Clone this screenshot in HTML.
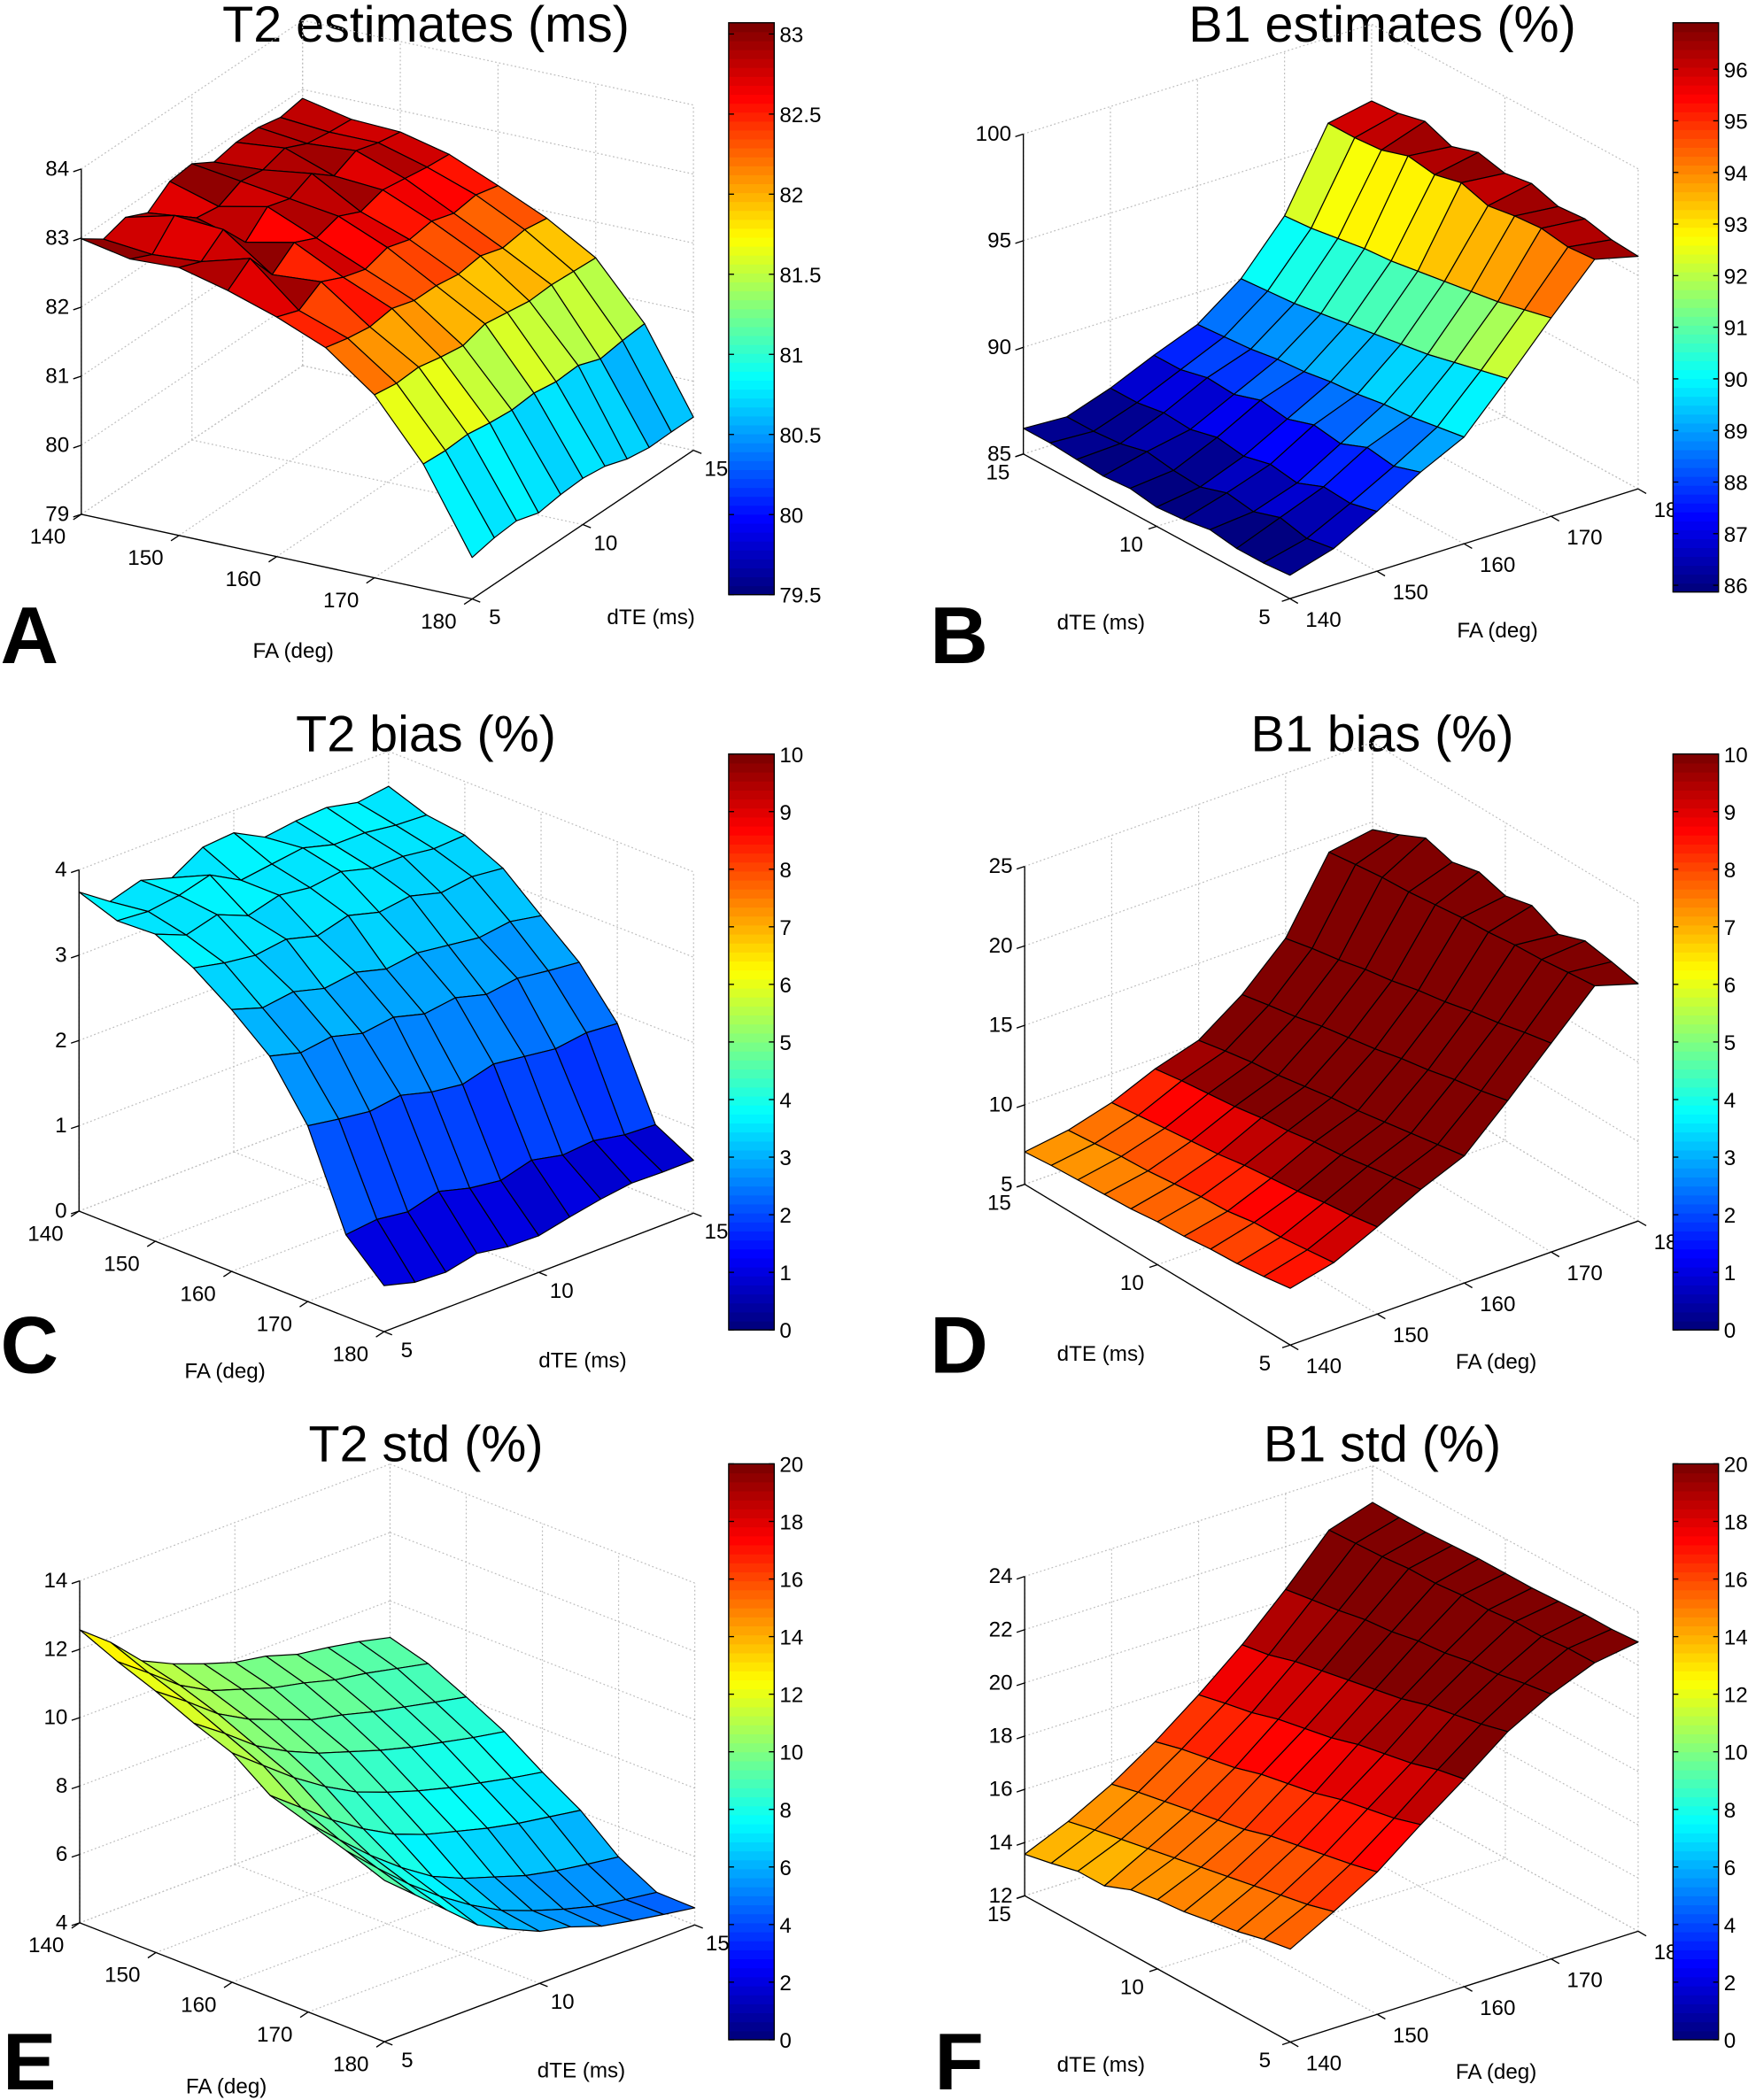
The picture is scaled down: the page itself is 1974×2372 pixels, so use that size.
<!DOCTYPE html>
<html><head><meta charset="utf-8"><title>T2/B1 estimation surfaces</title>
<style>
html,body{margin:0;padding:0;background:#fff;}
svg{display:block;font-family:"Liberation Sans",Arial,sans-serif;}
</style></head>
<body>
<svg id="fig" width="1974" height="2372" viewBox="0 0 1305 1568" preserveAspectRatio="none" xmlns="http://www.w3.org/2000/svg">
<rect x="0" y="0" width="1305" height="1568" fill="#fff"/>
<g font-size="38" text-anchor="middle" fill="#000">
<text x="318" y="31">T2 estimates (ms)</text>
<text x="1032" y="31">B1 estimates (%)</text>
<text x="318" y="561">T2 bias (%)</text>
<text x="1032" y="561">B1 bias (%)</text>
<text x="318" y="1091">T2 std (%)</text>
<text x="1032" y="1091">B1 std (%)</text>
</g>
<g font-size="60" font-weight="bold" text-anchor="middle" fill="#000">
<text x="22" y="495">A</text>
<text x="716" y="495">B</text>
<text x="22" y="1025">C</text>
<text x="716" y="1025">D</text>
<text x="22" y="1560">E</text>
<text x="716" y="1560">F</text>
</g>
<g font-size="16" text-anchor="middle" fill="#000">
<text x="219" y="491">FA (deg)</text>
<text x="486" y="466">dTE (ms)</text>
<text x="822" y="470">dTE (ms)</text>
<text x="1118" y="476">FA (deg)</text>
<text x="168" y="1029">FA (deg)</text>
<text x="435" y="1021">dTE (ms)</text>
<text x="822" y="1016">dTE (ms)</text>
<text x="1117" y="1022">FA (deg)</text>
<text x="169" y="1563">FA (deg)</text>
<text x="434" y="1551">dTE (ms)</text>
<text x="822" y="1547">dTE (ms)</text>
<text x="1117" y="1552">FA (deg)</text>
</g>
<g id="plots"></g>
</svg>
<script>
// ---- data ----
const faValues = [140,145,150,155,160,165,170,175,180];
const dteValues = [5,6,7,8,9,10,11,12,13,14,15];
const faTicks = [140,150,160,170,180];
const dteTicks = [5,10,15];

const t2Estimates = [
[82.99,82.77,82.87,82.72,82.96,83.0,82.81,82.88,82.88,82.81,82.87],
[82.85,82.7,83.05,82.8,82.75,82.9,82.85,82.95,82.8,82.75,82.72],
[82.88,82.75,83.0,82.6,82.9,82.8,82.95,82.7,82.85,82.75,82.69],
[82.70,82.95,82.5,82.75,82.6,82.7,82.55,82.65,82.6,82.55,82.52],
[82.47,82.35,82.55,82.4,82.3,82.4,82.3,82.35,82.25,82.3,82.22],
[82.18,82.1,82.05,82.1,82.0,82.0,81.95,82.0,81.9,81.95,81.90],
[81.65,81.6,81.62,81.55,81.5,81.6,81.55,81.5,81.52,81.5,81.48],
[80.80,80.78,80.8,80.75,80.72,80.75,80.7,80.72,80.6,80.65,80.68],
[79.6,79.67,79.70,79.60,79.65,79.67,79.63,79.52,79.47,79.48,79.48]];
const b1Estimates = [
[86.1,86.0,86.0,86.2,86.0,85.9,86.1,86.0,86.1,86.2,86.2],
[86.7,86.5,86.8,86.4,86.6,86.2,86.3,86.5,86.2,86.1,86.1],
[87.8,87.5,87.6,87.1,87.3,87.0,87.2,86.9,87.0,86.8,86.8],
[89.0,88.6,88.8,88.3,88.5,88.1,88.3,87.9,88.0,87.7,87.7],
[90.0,89.8,89.6,89.5,89.3,89.2,89.0,88.9,88.7,88.6,88.5],
[92.1,91.8,91.5,91.2,91.0,90.8,90.6,90.4,90.2,90.1,90.0],
[94.3,94.0,93.7,93.5,93.3,93.1,92.9,92.8,92.6,92.4,92.3],
[96.4,96.3,96.5,96.4,96.2,96.6,96.3,96.5,96.1,96.0,96.0],
[95.9,96.0,96.3,96.2,96.6,96.4,96.7,96.3,96.8,96.5,96.4]];
const t2Bias = [
[3.74,3.49,3.60,3.49,3.71,3.74,3.55,3.60,3.62,3.54,3.59],
[3.58,3.55,3.6,3.7,3.5,3.55,3.6,3.5,3.5,3.45,3.43],
[3.60,3.45,3.55,3.4,3.5,3.45,3.5,3.4,3.4,3.35,3.37],
[3.38,3.3,3.25,3.3,3.2,3.3,3.2,3.25,3.15,3.2,3.16],
[3.07,2.95,3.0,2.9,2.95,2.85,2.9,2.85,2.8,2.85,2.78],
[2.70,2.6,2.65,2.55,2.6,2.5,2.55,2.45,2.5,2.45,2.41],
[2.06,2.0,1.95,2.0,1.9,1.85,1.95,1.9,1.85,1.9,1.87],
[0.96,1.0,0.95,1.05,0.95,0.9,1.0,0.92,0.95,0.88,0.86],
[0.54,0.44,0.42,0.50,0.44,0.43,0.51,0.58,0.63,0.62,0.62]];
const b1Bias = [
[8.57,8.3,8.1,8.0,7.8,7.7,7.5,7.4,7.3,7.2,7.04],
[9.21,9.0,8.8,8.7,8.4,8.3,8.1,7.9,7.8,7.6,7.43],
[10.48,10.2,10.0,9.7,9.5,9.3,9.0,8.8,8.6,8.4,8.19],
[11.87,11.6,11.3,11.0,10.8,10.5,10.3,10.0,9.8,9.6,9.34],
[13.0,12.7,12.4,12.1,11.8,11.6,11.3,11.0,10.8,10.5,10.16],
[15.5,15.1,14.8,14.4,14.1,13.7,13.4,13.1,12.7,12.4,12.06],
[18.14,17.8,17.4,17.1,16.7,16.4,16.0,15.7,15.3,15.0,14.62],
[20.77,20.6,20.4,20.3,20.1,20.0,19.8,19.6,19.5,19.3,19.07],
[19.92,20.3,20.6,20.0,20.8,20.4,20.9,20.5,21.0,20.2,19.51]];
const t2Std = [
[12.57,11.86,10.98,10.55,10.21,9.91,9.75,9.46,9.32,9.15,8.93],
[12.07,11.4,10.7,10.2,9.9,9.6,9.4,9.15,9.0,8.8,8.60],
[11.64,11.0,10.3,9.8,9.45,9.1,8.9,8.65,8.45,8.25,8.06],
[11.14,10.5,9.8,9.3,8.9,8.6,8.3,8.05,7.85,7.65,7.48],
[10.71,10.0,9.3,8.7,8.2,7.85,7.55,7.3,7.1,6.9,6.73],
[9.90,9.2,8.5,7.9,7.4,7.05,6.8,6.55,6.35,6.2,6.05],
[9.53,8.7,7.9,7.2,6.6,6.2,5.9,5.6,5.4,5.25,5.12],
[9.15,8.3,7.5,6.8,6.2,5.7,5.35,5.05,4.8,4.65,4.52],
[8.72,7.95,7.17,6.39,5.93,5.52,5.31,4.99,4.81,4.65,4.50]];
const b1Std = [
[15.49,15.31,15.06,14.88,14.7,14.6,14.42,14.02,14.02,13.77,13.56],
[16.38,16.1,15.9,15.7,15.5,15.3,15.1,14.9,14.7,14.5,14.27],
[17.35,17.1,16.9,16.7,16.5,16.2,16.0,15.8,15.6,15.4,15.15],
[18.61,18.3,18.1,17.9,17.6,17.4,17.2,16.9,16.7,16.5,16.23],
[19.80,19.6,19.3,19.1,18.9,18.6,18.4,18.2,17.9,17.7,17.47],
[21.06,20.8,20.6,20.4,20.1,19.9,19.7,19.5,19.3,19.0,18.83],
[21.95,21.8,21.6,21.5,21.3,21.2,21.0,20.9,20.7,20.55,20.39],
[22.61,22.6,22.5,22.5,22.4,22.4,22.3,22.3,22.2,22.15,22.10],
[22.87,22.8,22.8,22.75,22.7,22.7,22.7,22.65,22.6,22.6,22.62]];

const zTicksA = [79,80,81,82,83,84];
const zTicksB = [85,90,95,100];
const zTicksC = [0,1,2,3,4];
const zTicksD = [5,10,15,20,25];
const zTicksE = [4,6,8,10,12,14];
const zTicksF = [12,14,16,18,20,22,24];
const cbTicksA = [79.5,80,80.5,81,81.5,82,82.5,83];
const cbTicksB = [86,87,88,89,90,91,92,93,94,95,96];
const cbTicksC = [0,1,2,3,4,5,6,7,8,9,10];
const cbTicksD = [0,1,2,3,4,5,6,7,8,9,10];
const cbTicksE = [0,2,4,6,8,10,12,14,16,18,20];
const cbTicksF = [0,2,4,6,8,10,12,14,16,18,20];
const climA = [79.5,83.07];
const climB = [85.87,96.9];
const climC = [0,10];
const climD = [0,10];
const climE = [0,20];
const climF = [0,20];

// ---- layout (geometry only) ----
const panels = [
 {id:'a', z:t2Estimates, zt:zTicksA, cb:cbTicksA, cl:climA, side:'L', px:60.7,py:384, fx:291.8,fy:63.2, dx:165.2,dy:-111, zmin:79,zmax:84,zs:51.56, cbx:544,cby0:17,cby1:444},
 {id:'b', z:b1Estimates, zt:zTicksB, cb:cbTicksB, cl:climB, side:'R', px:963,py:447, fx:260,fy:-82, dx:-199,dy:-108, zmin:85,zmax:100,zs:15.93, cbx:1249,cby0:17,cby1:442},
 {id:'c', z:t2Bias, zt:zTicksC, cb:cbTicksC, cl:climC, side:'L', px:59,py:904.3, fx:227.7,fy:90, dx:231.1,dy:-88.5, zmin:0,zmax:4,zs:63.7, cbx:544,cby0:563,cby1:993},
 {id:'d', z:b1Bias, zt:zTicksD, cb:cbTicksD, cl:climD, side:'R', px:963.3,py:1004.3, fx:259.7,fy:-92.6, dx:-198.3,dy:-120, zmin:5,zmax:25,zs:11.87, cbx:1249,cby0:563,cby1:993},
 {id:'e', z:t2Std, zt:zTicksE, cb:cbTicksE, cl:climE, side:'L', px:59.5,py:1435.7, fx:227.5,fy:88.8, dx:231.7,dy:-87.2, zmin:4,zmax:14,zs:25.53, cbx:544,cby0:1093,cby1:1523},
 {id:'f', z:b1Std, zt:zTicksF, cb:cbTicksF, cl:climF, side:'R', px:963.3,py:1524.7, fx:259.7,fy:-82.7, dx:-198.3,dy:-109.2, zmin:12,zmax:24,zs:19.87, cbx:1249,cby0:1093,cby1:1523}
];

const NS='http://www.w3.org/2000/svg';
const root=document.getElementById('plots');
function mk(tag, attrs, parent){const e=document.createElementNS(NS,tag);for(const k in attrs)e.setAttribute(k,attrs[k]);(parent||root).appendChild(e);return e;}
function jet(t){t=Math.max(0,Math.min(1,t));const k=Math.min(63,Math.floor(t*64));const q=k/63;
 const c=v=>Math.round(255*Math.max(0,Math.min(1,v)));
 return 'rgb('+c(1.5-Math.abs(4*q-3))+','+c(1.5-Math.abs(4*q-2))+','+c(1.5-Math.abs(4*q-1))+')';}
function fmt(v){return (Math.round(v*10)/10).toString();}

panels.forEach(p=>{
 const g=mk('g',{});
 
 
 const P=(fa,dte,z)=>{const u=(fa-140)/40,w=(dte-5)/10;return [p.px+u*p.fx+w*p.dx, p.py+u*p.fy+w*p.dy-(z-p.zmin)*p.zs];};
 const line=(a,b,st,par)=>mk('line',{x1:a[0].toFixed(2),y1:a[1].toFixed(2),x2:b[0].toFixed(2),y2:b[1].toFixed(2),stroke:st.c,'stroke-width':st.w,'stroke-dasharray':st.d||'none'},par);
 const grid={c:'#bdbdbd',w:0.8,d:'1.2,1.8'};
 const gg=mk('g',{},g);
 
 
 faTicks.forEach(fa=>line(P(fa,5,p.zmin),P(fa,15,p.zmin),grid,gg));
 dteTicks.forEach(d=>line(P(140,d,p.zmin),P(180,d,p.zmin),grid,gg));
 p.zt.forEach(z=>line(P(140,15,z),P(180,15,z),grid,gg));
 faTicks.forEach(fa=>line(P(fa,15,p.zmin),P(fa,15,p.zmax),grid,gg));
 const wallFA = p.side==='L'?140:180;
 p.zt.forEach(z=>line(P(wallFA,5,z),P(wallFA,15,z),grid,gg));
 dteTicks.forEach(d=>line(P(wallFA,d,p.zmin),P(wallFA,d,p.zmax),grid,gg));
 const ax={c:'#000',w:0.9};
 const axg=mk('g',{},g);
 
 
 const zc = p.side==='L'?[140,5]:[140,15];
 line(P(140,5,p.zmin),P(180,5,p.zmin),ax,axg);
 if(p.side==='L') line(P(180,5,p.zmin),P(180,15,p.zmin),ax,axg);
 else line(P(140,15,p.zmin),P(140,5,p.zmin),ax,axg);
 line(P(zc[0],zc[1],p.zmin),P(zc[0],zc[1],p.zmax),ax,axg);
 const lab=(x,y,s,anchor,nm)=>{const t=mk('text',{x:x.toFixed(1),y:(y+6).toFixed(1),'font-size':16,'text-anchor':anchor,fill:'#000'},axg);t.textContent=s;
  
  };
 p.zt.forEach(z=>{const a=P(zc[0],zc[1],z);line(a,[a[0]-6,a[1]+2],ax,axg);lab(a[0]-9,a[1]-1,String(z),'end','z-tick-label');});
 faTicks.forEach(fa=>{const a=P(fa,5,p.zmin);
  if(p.side==='L'){line(a,[a[0]-6,a[1]+4],ax,axg);lab(a[0]-25,a[1]+16,String(fa),'middle','fa-tick-label');}
  else{line(a,[a[0]+6,a[1]+3.5],ax,axg);lab(a[0]+25,a[1]+15,String(fa),'middle','fa-tick-label');}});
 dteTicks.forEach(d=>{
  if(p.side==='L'){const a=P(180,d,p.zmin);line(a,[a[0]+6,a[1]+2.4],ax,axg);lab(a[0]+17,a[1]+13,String(d),'middle','dte-tick-label');}
  else{const a=P(140,d,p.zmin);line(a,[a[0]-6,a[1]+2],ax,axg);lab(a[0]-19,a[1]+13,String(d),'middle','dte-tick-label');}});
 const sg=mk('g',{},g);
 
 
 const faces=[];
 for(let i=0;i<faValues.length-1;i++)for(let j=0;j<dteValues.length-1;j++){
  const c=[[i,j],[i+1,j],[i+1,j+1],[i,j+1]].map(([a,b])=>P(faValues[a],dteValues[b],p.z[a][b]));
  const base=P((faValues[i]+faValues[i+1])/2,(dteValues[j]+dteValues[j+1])/2,p.zmin);
  faces.push({c,depth:base[1],v:p.z[i][j]});}
 faces.sort((a,b)=>a.depth-b.depth);
 faces.forEach(f=>{const poly=mk('polygon',{points:f.c.map(q=>q[0].toFixed(2)+','+q[1].toFixed(2)).join(' '),fill:jet((f.v-p.cl[0])/(p.cl[1]-p.cl[0])),stroke:'#000','stroke-width':0.8,'stroke-linejoin':'round'},sg);
  
  });
 const cg=mk('g',{},g);
 
 
 const cw=34,h=p.cby1-p.cby0;
 for(let k=0;k<64;k++){const r=mk('rect',{x:p.cbx,y:(p.cby1-(k+1)*h/64).toFixed(2),width:cw,height:(h/64+0.4).toFixed(2),fill:jet(k/63)},cg);
  
  }
 const fr=mk('rect',{x:p.cbx,y:p.cby0,width:cw,height:h,fill:'none',stroke:'#000','stroke-width':0.9},cg);
 
 
 p.cb.forEach(v=>{const y=p.cby1-(v-p.cl[0])/(p.cl[1]-p.cl[0])*h;
  line([p.cbx,y],[p.cbx+4,y],ax,cg);line([p.cbx+cw-4,y],[p.cbx+cw,y],ax,cg);
  const t=mk('text',{x:p.cbx+cw+4,y:(y+6).toFixed(1),'font-size':16,'text-anchor':'start',fill:'#000'},cg);t.textContent=fmt(v);
  
  });
});
</script>
</body></html>
